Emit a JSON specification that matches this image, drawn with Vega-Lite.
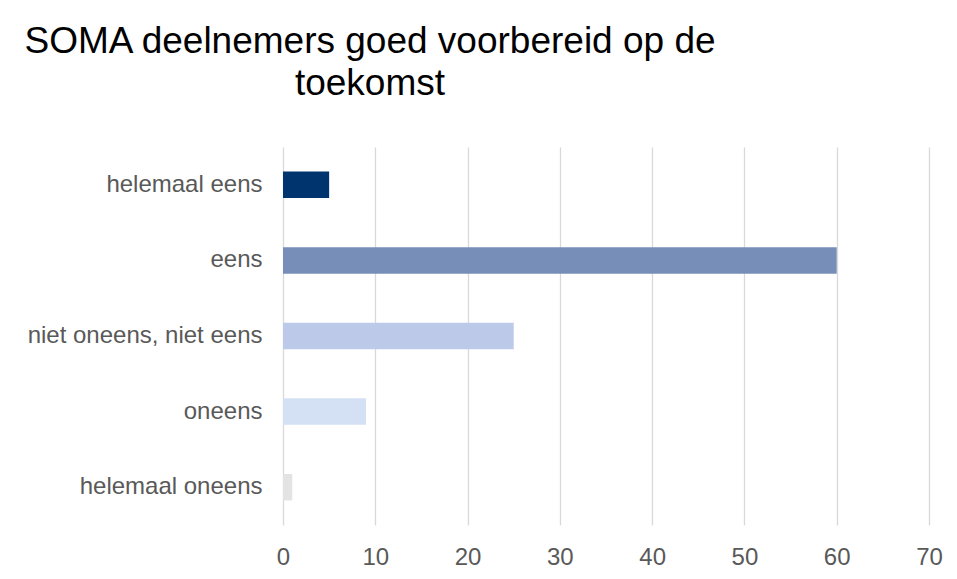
{
  "$schema": "https://vega.github.io/schema/vega-lite/v6.json",
  "autosize": "none",
  "padding": {"left": 283, "top": 147, "right": 29, "bottom": 54},
  "width": 646,
  "height": 378,
  "background": "white",
  "title": {
    "text": ["SOMA deelnemers goed voorbereid op de", "toekomst"],
    "anchor": "start",
    "frame": "group",
    "align": "center",
    "dx": 87,
    "font": "Liberation Sans",
    "fontSize": 37,
    "fontWeight": "normal",
    "color": "#000000",
    "lineHeight": 42,
    "offset": 44
  },
  "data": {
    "values": [
      {"categorie": "helemaal eens", "aantal": 5},
      {"categorie": "eens", "aantal": 60},
      {"categorie": "niet oneens, niet eens", "aantal": 25},
      {"categorie": "oneens", "aantal": 9},
      {"categorie": "helemaal oneens", "aantal": 1}
    ]
  },
  "mark": {"type": "bar"},
  "encoding": {
    "y": {
      "field": "categorie",
      "type": "nominal",
      "sort": null,
      "title": null,
      "scale": {"paddingInner": 0.65, "paddingOuter": 0.325},
      "axis": {
        "domain": false,
        "ticks": false,
        "labelPadding": 21,
        "labelLimit": 0,
        "labelFont": "Liberation Sans",
        "labelFontSize": 24,
        "labelColor": "#595959",
        "grid": false
      }
    },
    "x": {
      "field": "aantal",
      "type": "quantitative",
      "title": null,
      "scale": {"domain": [0, 70], "nice": false},
      "axis": {
        "values": [0, 10, 20, 30, 40, 50, 60, 70],
        "domain": false,
        "ticks": false,
        "grid": true,
        "gridColor": "#D9D9D9",
        "gridWidth": 1.3,
        "labelPadding": 20,
        "labelFont": "Liberation Sans",
        "labelFontSize": 24,
        "labelColor": "#595959",
        "labelFlush": false
      }
    },
    "color": {
      "field": "categorie",
      "type": "nominal",
      "legend": null,
      "scale": {
        "domain": ["helemaal eens", "eens", "niet oneens, niet eens", "oneens", "helemaal oneens"],
        "range": ["#00346F", "#778FB8", "#BCC9E8", "#D4E0F3", "#E3E3E3"]
      }
    }
  },
  "config": {"view": {"stroke": null}}
}
